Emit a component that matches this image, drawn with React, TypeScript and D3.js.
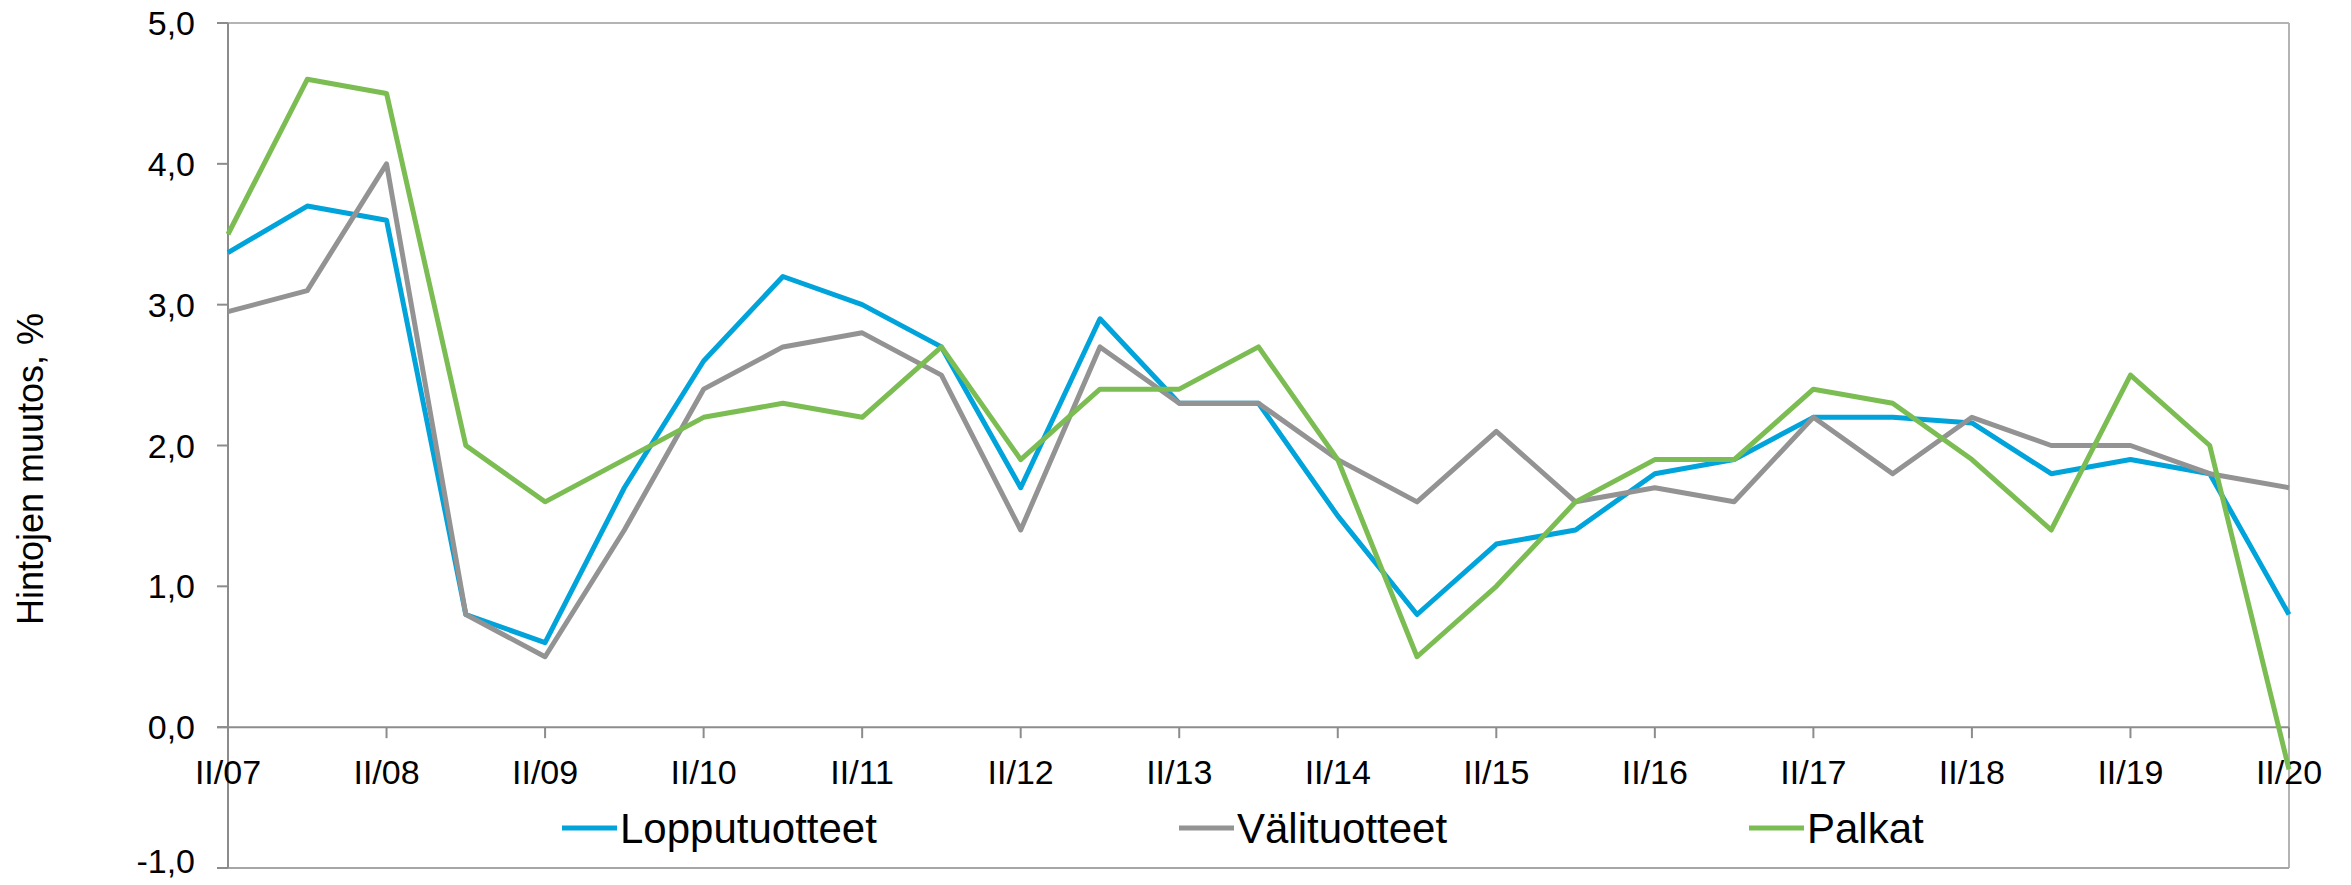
import React from "react";
import * as d3 from "d3";

// half-year periods II/07 ... II/20
const periods = [
  "II/07", "I/08", "II/08", "I/09", "II/09", "I/10", "II/10", "I/11", "II/11",
  "I/12", "II/12", "I/13", "II/13", "I/14", "II/14", "I/15", "II/15", "I/16",
  "II/16", "I/17", "II/17", "I/18", "II/18", "I/19", "II/19", "I/20", "II/20",
];

const lopputuotteet = [
  3.37, 3.7, 3.6, 0.8, 0.6, 1.7, 2.6, 3.2, 3.0, 2.7, 1.7, 2.9, 2.3, 2.3, 1.5,
  0.8, 1.3, 1.4, 1.8, 1.9, 2.2, 2.2, 2.16, 1.8, 1.9, 1.8, 0.8,
];
const valituotteet = [
  2.95, 3.1, 4.0, 0.8, 0.5, 1.4, 2.4, 2.7, 2.8, 2.5, 1.4, 2.7, 2.3, 2.3, 1.9,
  1.6, 2.1, 1.6, 1.7, 1.6, 2.2, 1.8, 2.2, 2.0, 2.0, 1.8, 1.7,
];
const palkat = [
  3.5, 4.6, 4.5, 2.0, 1.6, 1.9, 2.2, 2.3, 2.2, 2.7, 1.9, 2.4, 2.4, 2.7, 1.9,
  0.5, 1.0, 1.6, 1.9, 1.9, 2.4, 2.3, 1.9, 1.4, 2.5, 2.0, -0.3,
];

const seriesNames = ["Lopputuotteet", "Välituotteet", "Palkat"];
const seriesColors = ["#00a3da", "#939393", "#7bbd52"];
const yTicks = [-1, 0, 1, 2, 3, 4, 5];

const W = 2351;
const H = 885;
const left = 228;
const right = 2289;
const top = 23;
const bottom = 868;

const font = "'Liberation Sans', Arial, sans-serif";

export default function App() {
  const x = d3.scalePoint<string>().domain(periods).range([left, right]);
  const y = d3.scaleLinear().domain([-1, 5]).range([bottom, top]);

  const line = d3
    .line<number>()
    .x((_, i) => x(periods[i]) as number)
    .y((d) => y(d));

  const allSeries = [lopputuotteet, valituotteet, palkat];
  const labelPeriods = periods.filter((_, i) => i % 2 === 0);
  const fmt = (v: number) => v.toFixed(1).replace(".", ",");

  // legend positions (start of the colour sample)
  const legendX = [562, 1179, 1749];
  const legendY = 828;

  return (
    <svg
      width={W}
      height={H}
      style={{ position: "absolute", left: 0, top: 0, background: "#fff" }}
      fontFamily={font}
    >
      {/* frame */}
      <line x1={left} x2={right} y1={top} y2={top} stroke="#b4b4b4" strokeWidth={2} />
      <line x1={right} x2={right} y1={top} y2={bottom} stroke="#b4b4b4" strokeWidth={2} />
      <line x1={left} x2={right} y1={bottom} y2={bottom} stroke="#a6a6a6" strokeWidth={2} />
      <line x1={left} x2={left} y1={top} y2={bottom} stroke="#8c8c8c" strokeWidth={2} />

      {/* y ticks, last label kept inside the picture */}
      {yTicks.map((t) => (
        <g key={t}>
          <line x1={left - 11} x2={left} y1={y(t)} y2={y(t)} stroke="#8c8c8c" strokeWidth={2} />
          <text
            x={left - 33}
            y={Math.min(y(t) + 12, H - 12)}
            textAnchor="end"
            fontSize={34}
            fill="#000"
          >
            {fmt(t)}
          </text>
        </g>
      ))}

      {/* zero axis */}
      <line x1={left - 11} x2={right} y1={y(0)} y2={y(0)} stroke="#8c8c8c" strokeWidth={2} />
      {labelPeriods.map((p) => (
        <g key={p}>
          <line
            x1={x(p)}
            x2={x(p)}
            y1={y(0)}
            y2={y(0) + 11}
            stroke="#8c8c8c"
            strokeWidth={2}
          />
          <text x={x(p)} y={y(0) + 57} textAnchor="middle" fontSize={34} fill="#000">
            {p}
          </text>
        </g>
      ))}

      {/* y title */}
      <text
        transform={`translate(43,469) rotate(-90)`}
        textAnchor="middle"
        fontSize={36}
        fill="#000"
      >
        Hintojen muutos, %
      </text>

      {/* series */}
      {allSeries.map((s, i) => (
        <path
          key={seriesNames[i]}
          d={line(s) || ""}
          fill="none"
          stroke={seriesColors[i]}
          strokeWidth={5}
          strokeLinejoin="round"
        />
      ))}

      {/* legend */}
      {seriesNames.map((n, i) => (
        <g key={n}>
          <line
            x1={legendX[i]}
            x2={legendX[i] + 55}
            y1={legendY}
            y2={legendY}
            stroke={seriesColors[i]}
            strokeWidth={5}
          />
          <text x={legendX[i] + 58} y={legendY} dy="0.36em" fontSize={42} fill="#000">
            {n}
          </text>
        </g>
      ))}
    </svg>
  );
}
